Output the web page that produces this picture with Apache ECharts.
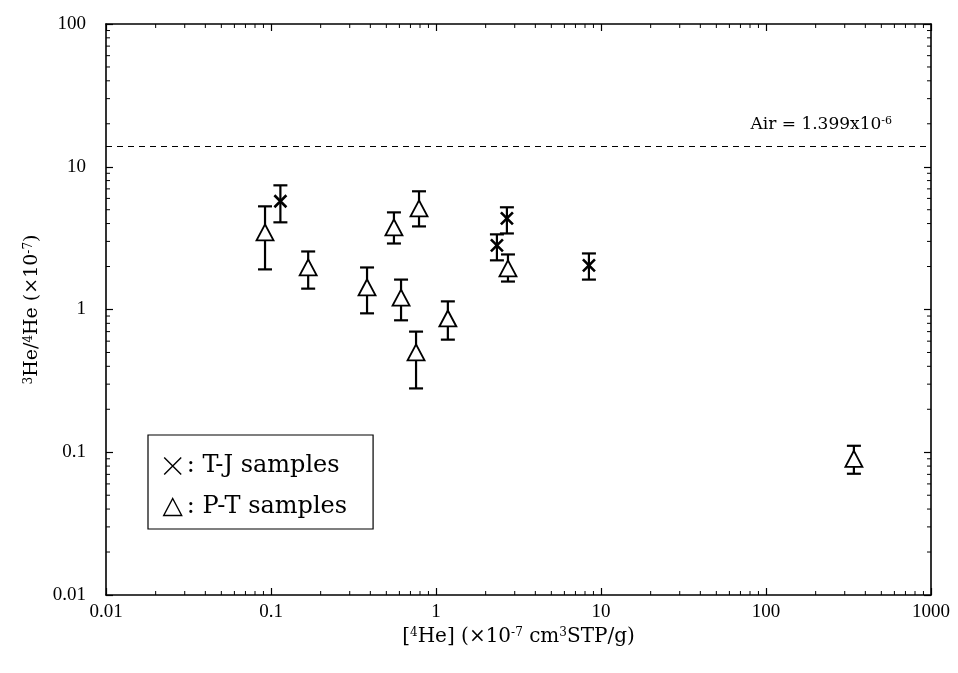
<!DOCTYPE html>
<html>
<head>
<meta charset="utf-8">
<script src="https://cdn.jsdelivr.net/npm/echarts@6/dist/echarts.min.js"></script>
<style>
html, body { margin: 0; padding: 0; background: #fff; }
#main { width: 958px; height: 673px; }
</style>
</head>
<body>
<div id="main"></div>
<script>
// P-T samples (triangles): [4He], 3He/4He and error range
var ptX = [0.092, 0.168, 0.382, 0.556, 0.789, 0.614, 0.757, 1.18, 2.73, 341];
var ptY = [3.47, 1.97, 1.43, 3.76, 5.11, 1.21, 0.50, 0.865, 1.94, 0.090];
var ptLow = [1.91, 1.40, 0.94, 2.90, 3.82, 0.84, 0.28, 0.615, 1.57, 0.0707];
var ptHigh = [5.28, 2.55, 1.97, 4.79, 6.73, 1.62, 0.70, 1.14, 2.43, 0.111];
// T-J samples (crosses)
var tjX = [0.114, 2.69, 2.34, 8.45];
var tjY = [5.73, 4.35, 2.81, 2.04];
var tjLow = [4.08, 3.41, 2.21, 1.62];
var tjHigh = [7.41, 5.20, 3.36, 2.47];
// air ratio, 1.399x10^-6 in units of 10^-7
var airRatio = 13.99;
var xTickLabels = ["0.01", "0.1", "1", "10", "100", "1000"];
var yTickLabels = ["0.01", "0.1", "1", "10", "100"];

var chart = echarts.init(document.getElementById("main"));
var serif = "Liberation Serif";
var wide = "DejaVu Serif";
var supStyle = { fontSize: 12, fontFamily: wide, color: "#000", verticalAlign: "top" };

function pairs(xs, ys) {
  return xs.map(function (x, i) { return [x, ys[i]]; });
}
function bars(xs, lo, hi) {
  return xs.map(function (x, i) { return [x, lo[i], hi[i]]; });
}

// minor ticks at 2..9 of each decade
var xMinor = [], yMinor = [];
for (var e = -2; e < 3; e++) {
  for (var m = 2; m < 10; m++) {
    xMinor.push([m * Math.pow(10, e), 1]);
    if (e < 2) yMinor.push([1, m * Math.pow(10, e)]);
  }
}

function errorBar(params, api) {
  var x = api.value(0);
  var lo = api.coord([x, api.value(1)]);
  var hi = api.coord([x, api.value(2)]);
  var hw = 7;
  var st = { stroke: "#000", lineWidth: 2.2 };
  return {
    type: "group",
    children: [
      { type: "line", shape: { x1: lo[0], y1: lo[1], x2: hi[0], y2: hi[1] }, style: st },
      { type: "line", shape: { x1: lo[0] - hw, y1: lo[1], x2: lo[0] + hw, y2: lo[1] }, style: st },
      { type: "line", shape: { x1: hi[0] - hw, y1: hi[1], x2: hi[0] + hw, y2: hi[1] }, style: st }
    ]
  };
}

function minorTickX(params, api) {
  var p = api.coord([api.value(0), api.value(1)]);
  var cs = params.coordSys;
  var st = { stroke: "#000", lineWidth: 1 };
  return {
    type: "group",
    children: [
      { type: "line", shape: { x1: p[0], y1: cs.y + cs.height, x2: p[0], y2: cs.y + cs.height - 4 }, style: st },
      { type: "line", shape: { x1: p[0], y1: cs.y, x2: p[0], y2: cs.y + 4 }, style: st }
    ]
  };
}
function minorTickY(params, api) {
  var p = api.coord([api.value(0), api.value(1)]);
  var cs = params.coordSys;
  var st = { stroke: "#000", lineWidth: 1 };
  return {
    type: "group",
    children: [
      { type: "line", shape: { x1: cs.x, y1: p[1], x2: cs.x + 4, y2: p[1] }, style: st },
      { type: "line", shape: { x1: cs.x + cs.width, y1: p[1], x2: cs.x + cs.width - 4, y2: p[1] }, style: st }
    ]
  };
}

function fmt(labels) {
  return function (v) {
    var k = Math.round(Math.log10(v)) + 2;
    return labels[k] !== undefined ? labels[k] : "";
  };
}

var crossIcon = "path://M0,0L10,10M10,0L0,10";

var axisBase = {
  type: "log",
  logBase: 10,
  axisLine: { show: true, lineStyle: { color: "#000", width: 1.6 } },
  axisTick: { show: true, inside: true, length: 7, lineStyle: { color: "#000", width: 1.2 } },
  splitLine: { show: false },
  minorTick: { show: false },
  axisLabel: { color: "#000", fontFamily: serif, fontSize: 19 }
};

var option = {
  animation: false,
  backgroundColor: "#fff",
  grid: { left: 106, right: 27, top: 24, bottom: 78 },
  xAxis: [
    Object.assign({}, axisBase, {
      min: 0.01, max: 1000, position: "bottom",
      axisLabel: Object.assign({}, axisBase.axisLabel, { margin: 8, formatter: fmt(xTickLabels) }),
      name: "[{sup|4}He] (×10{sup|-7} cm{sup|3}STP/g)",
      nameLocation: "middle",
      nameGap: 29,
      nameTextStyle: { color: "#000", fontFamily: wide, fontSize: 20, rich: { sup: supStyle } }
    }),
    Object.assign({}, axisBase, {
      min: 0.01, max: 1000, position: "top",
      axisLabel: { show: false }
    })
  ],
  yAxis: [
    Object.assign({}, axisBase, {
      min: 0.01, max: 100, position: "left",
      axisLabel: Object.assign({}, axisBase.axisLabel, { margin: 20, formatter: fmt(yTickLabels) }),
      name: "{sup|3}He/{sup|4}He (×10{sup|-7})",
      nameLocation: "middle",
      nameGap: 62,
      nameTextStyle: { color: "#000", fontFamily: wide, fontSize: 19, rich: { sup: supStyle } }
    }),
    Object.assign({}, axisBase, {
      min: 0.01, max: 100, position: "right",
      axisLabel: { show: false }
    })
  ],
  legend: {
    orient: "vertical",
    left: 148,
    top: 435,
    data: [
      { name: "T-J", icon: crossIcon, itemStyle: { borderWidth: 1.4 } },
      { name: "P-T", icon: "triangle", itemStyle: { borderWidth: 1.4 } }
    ],
    formatter: function (n) { return n === "T-J" ? ": T-J samples" : ": P-T samples"; },
    itemWidth: 18,
    itemHeight: 17,
    itemGap: 17,
    borderColor: "#000",
    borderWidth: 1.2,
    borderRadius: 0,
    padding: [19, 26, 10, 15],
    textStyle: { color: "#000", fontFamily: wide, fontSize: 24 }
  },
  series: [
    { type: "custom", silent: true, renderItem: minorTickX, data: xMinor, encode: { x: 0, y: 1 }, z: 1 },
    { type: "custom", silent: true, renderItem: minorTickY, data: yMinor, encode: { x: 0, y: 1 }, z: 1 },
    { type: "custom", name: "errP", silent: true, renderItem: errorBar, data: bars(ptX, ptLow, ptHigh), encode: { x: 0, y: [1, 2] }, z: 2 },
    { type: "custom", name: "errT", silent: true, renderItem: errorBar, data: bars(tjX, tjLow, tjHigh), encode: { x: 0, y: [1, 2] }, z: 2 },
    {
      type: "scatter", name: "P-T", data: pairs(ptX, ptY), z: 3,
      symbol: "triangle", symbolSize: [17, 16],
      itemStyle: { color: "#fff", borderColor: "#000", borderWidth: 1.8, opacity: 1 },
      markLine: {
        silent: true,
        symbol: "none",
        data: [{ yAxis: airRatio }],
        lineStyle: { color: "#000", type: [6, 5], width: 1.2 },
        label: {
          position: "insideEndTop",
          formatter: "Air = 1.399x10{sup|-6}",
          color: "#000",
          fontFamily: wide,
          fontSize: 17,
          padding: [0, 34, 8, 0],
          rich: { sup: { fontSize: 11, fontFamily: wide, color: "#000", verticalAlign: "top" } }
        }
      }
    },
    {
      type: "scatter", name: "T-J", data: pairs(tjX, tjY), z: 4,
      symbol: crossIcon, symbolSize: 12,
      itemStyle: { color: "#000", borderColor: "#000", borderWidth: 2.6, opacity: 1 }
    }
  ]
};

chart.setOption(option);
</script>
</body>
</html>
